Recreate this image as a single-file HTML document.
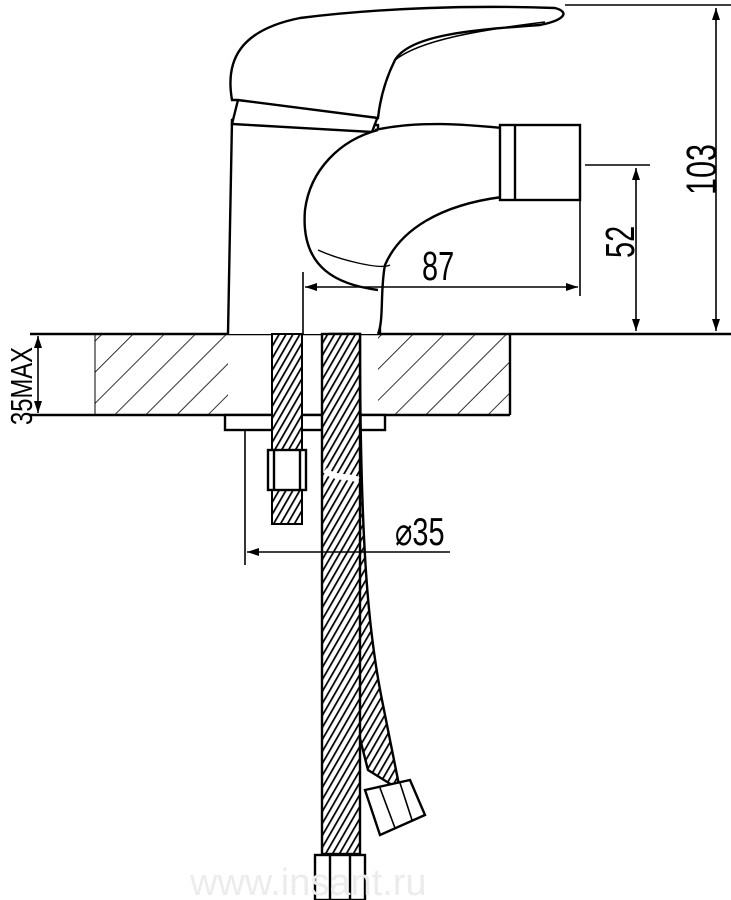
<!DOCTYPE html>
<html><head><style>body{margin:0;background:#fff}svg{display:block}</style></head><body>
<svg width="731" height="900" viewBox="0 0 731 900" xmlns="http://www.w3.org/2000/svg">
<defs>
<pattern id="h" width="22" height="22" patternUnits="userSpaceOnUse" patternTransform="rotate(45)">
<line x1="0" y1="0" x2="0" y2="22" stroke="#000" stroke-width="1.6"/></pattern>
<pattern id="br" width="6" height="6" patternUnits="userSpaceOnUse" patternTransform="rotate(30)">
<rect width="6" height="6" fill="#fff"/><line x1="0" y1="0" x2="0" y2="6" stroke="#000" stroke-width="3.5"/></pattern>
<marker id="a" markerWidth="12" markerHeight="8" refX="12" refY="4" orient="auto-start-reverse" markerUnits="userSpaceOnUse"><path d="M0,0 L12,4 L0,8 z" fill="#000"/></marker>
</defs>
<g fill="none" stroke="#000" stroke-width="2.4">
<rect x="95" y="334" width="415" height="81" fill="url(#h)" stroke="none"/>
<rect x="228" y="334" width="150" height="81" fill="#fff" stroke="none"/>
<line x1="30" y1="334" x2="731" y2="334"/>
<line x1="30" y1="415" x2="510" y2="415"/>
<line x1="510" y1="334" x2="510" y2="415"/>
<line x1="95" y1="334" x2="95" y2="415" stroke-width="1"/>
<line x1="38" y1="336" x2="38" y2="413" marker-start="url(#a)" marker-end="url(#a)" stroke-width="1.6"/>
<path d="M228 334 L232 120 L378 125 L380 334" fill="#fff"/>
<path d="M238 100 L378 116 L372 132 L232 124 Z" fill="#fff"/>
<path d="M232 100 C225 60 240 30 300 18 C380 8 470 5 555 8 C570 12 565 20 540 25 C470 30 410 35 395 60 C385 80 380 100 378 118 L238 100 Z" fill="#fff"/>
<path d="M395 60 C420 40 480 30 545 22" stroke-width="1.6"/>
<path d="M375 130 C420 120 470 125 502 128 L502 197 C440 205 400 230 385 265 C380 290 384 320 378 334 M378 290 C340 285 300 270 305 210 C310 170 340 140 378 130" fill="#fff"/>
<path d="M318 250 C340 260 380 270 390 265" stroke-width="1.4"/>
<rect x="500" y="125" width="80" height="75" fill="#fff"/>
<line x1="515" y1="125" x2="515" y2="200"/>
<line x1="565" y1="5" x2="731" y2="5" stroke-width="1.6"/>
<line x1="716" y1="8" x2="716" y2="331" marker-start="url(#a)" marker-end="url(#a)" stroke-width="1.6"/>
<line x1="585" y1="165" x2="650" y2="165" stroke-width="1.6"/>
<line x1="636" y1="168" x2="636" y2="331" marker-start="url(#a)" marker-end="url(#a)" stroke-width="1.6"/>
<line x1="580" y1="165" x2="580" y2="296" stroke-width="1.6"/>
<line x1="303" y1="272" x2="303" y2="334" stroke-width="1.6"/>
<line x1="305" y1="287" x2="578" y2="287" marker-start="url(#a)" marker-end="url(#a)" stroke-width="1.6"/>
<rect x="225" y="415" width="160" height="15" fill="#fff"/>
<rect x="272" y="334" width="30" height="190" fill="url(#br)" stroke-width="2"/>
<rect x="268" y="450" width="38" height="40" fill="#fff"/>
<line x1="274" y1="450" x2="274" y2="490"/><line x1="300" y1="450" x2="300" y2="490"/>
<path d="M330 334 L330 560 C335 640 350 700 368 770 L400 790 L382 700 C370 640 360 560 360 334 Z" fill="url(#br)"/>
<rect x="322" y="334" width="38" height="520" fill="url(#br)"/>
<path d="M325 470 C335 480 350 475 358 480" stroke="#fff" stroke-width="6"/>
<path d="M365 790 L410 780 L425 815 L380 835 Z" fill="#fff"/>
<path d="M380 788 L395 828 M400 783 L412 820" stroke-width="1.6"/>
<rect x="315" y="855" width="50" height="45" fill="#fff"/>
<line x1="330" y1="855" x2="330" y2="900"/><line x1="350" y1="855" x2="350" y2="900"/>
<line x1="245" y1="430" x2="245" y2="565" stroke-width="1.6"/>
<line x1="247" y1="552" x2="450" y2="552" marker-start="url(#a)" stroke-width="1.6"/>
</g>
<g font-family="Liberation Sans Narrow, Liberation Sans, sans-serif" font-size="34" fill="#000">
<text transform="translate(395,545) scale(0.85,1.15)">⌀35</text>
<text transform="translate(422,280) scale(0.85,1.2)">87</text>
<text transform="translate(634,258) rotate(-90) scale(0.85,1.2)">52</text>
<text transform="translate(716,195) rotate(-90) scale(0.9,1.25)">103</text>
<text transform="translate(32,425) rotate(-90) scale(0.85,1.1)" font-size="28">35MAX</text>
</g>
<text x="190" y="895" font-family="Liberation Sans, sans-serif" font-size="38" fill="#ececec">www.insant.ru</text>
</svg>
</body></html>
